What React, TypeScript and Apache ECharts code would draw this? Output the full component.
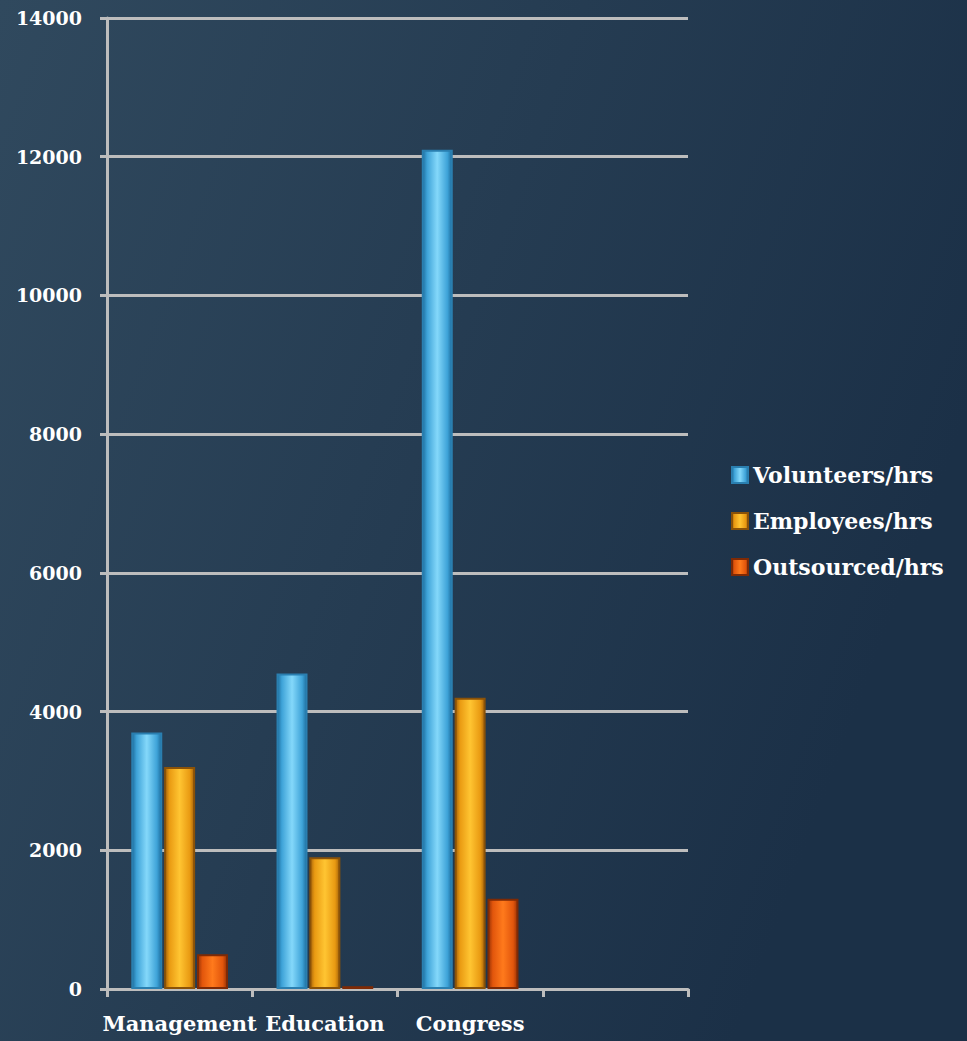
import React, { useEffect, useRef } from "react";
import * as echarts from "echarts";

const categories = ["Management", "Education", "Congress", ""];
const seriesNames = ["Volunteers/hrs", "Employees/hrs", "Outsourced/hrs"];
const volunteers = [3700, 4550, 12100, null];
const employees = [3200, 1900, 4200, null];
const outsourced = [500, 40, 1300, null];
const yTicks = { min: 0, max: 14000, interval: 2000 };

const FONT = "DejaVu Serif";
const AXIS = "#bdbdbd";

function barGrad(edge: string, mid: string, light: string) {
  return new echarts.graphic.LinearGradient(0, 0, 1, 0, [
    { offset: 0, color: edge },
    { offset: 0.15, color: mid },
    { offset: 0.5, color: light },
    { offset: 0.85, color: mid },
    { offset: 1, color: edge },
  ]);
}

export default function App() {
  const ref = useRef<HTMLDivElement>(null);
  useEffect(() => {
    document.body.style.margin = "0";
    const chart = echarts.init(ref.current!, null, { renderer: "svg" });
    const colors = [
      { fill: barGrad("#1f6f9f", "#3ea3d8", "#84d8fa"), border: "#2a7fb0", icon: "#3fa6dc" },
      { fill: barGrad("#a8650a", "#e99a12", "#ffc532"), border: "#8a5208", icon: "#e8960e" },
      { fill: barGrad("#9a3406", "#e2560c", "#ff7a1c"), border: "#7f2a05", icon: "#e0520c" },
    ];
    const data = [volunteers, employees, outsourced];
    chart.setOption({
      animation: false,
      backgroundColor: new echarts.graphic.LinearGradient(0, 0, 1, 0.4, [
        { offset: 0, color: "#30495e" },
        { offset: 1, color: "#1b3047" },
      ]),
      grid: { left: 107, right: 279, top: 18, bottom: 52, containLabel: false },
      legend: {
        orient: "vertical",
        left: 726,
        top: 459,
        itemGap: 24,
        itemWidth: 16,
        itemHeight: 16,
        icon: "rect",
        textStyle: { color: "#ffffff", fontFamily: FONT, fontWeight: "bold", fontSize: 22 },
        data: seriesNames,
      },
      xAxis: {
        type: "category",
        data: categories,
        axisLine: { show: true, lineStyle: { color: AXIS, width: 3 } },
        axisTick: { show: true, length: 8, lineStyle: { color: AXIS, width: 3 }, alignWithLabel: false },
        axisLabel: {
          color: "#ffffff",
          fontFamily: FONT,
          fontWeight: "bold",
          fontSize: 21,
          margin: 24,
          interval: 0,
        },
      },
      yAxis: {
        type: "value",
        min: yTicks.min,
        max: yTicks.max,
        interval: yTicks.interval,
        axisLine: { show: true, lineStyle: { color: AXIS, width: 3 } },
        axisTick: { show: true, length: 7, lineStyle: { color: AXIS, width: 3 } },
        splitLine: { show: true, lineStyle: { color: AXIS, width: 3 } },
        axisLabel: {
          color: "#ffffff",
          fontFamily: FONT,
          fontWeight: "bold",
          fontSize: 19,
          margin: 25,
          formatter: (v: number) => String(v),
        },
      },
      series: seriesNames.map((name, i) => ({
        name,
        type: "bar",
        data: data[i],
        barWidth: 31,
        barGap: "6%",
        itemStyle: {
          color: colors[i].fill,
          borderColor: colors[i].border,
          borderWidth: 2,
        },
        emphasis: { disabled: true },
      })),
      color: colors.map((c) => c.icon),
    });
    return () => chart.dispose();
  }, []);
  return <div ref={ref} style={{ width: 967, height: 1041 }} />;
}
